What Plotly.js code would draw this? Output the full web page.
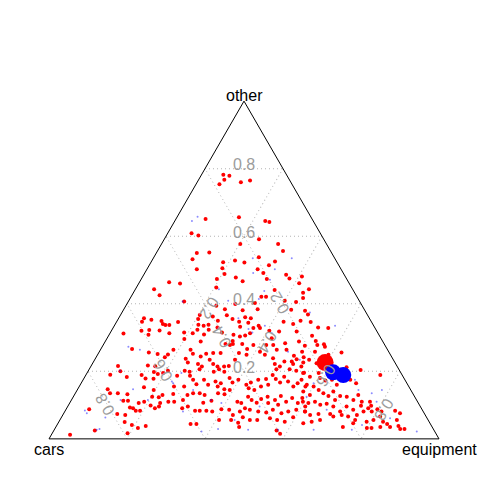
<!DOCTYPE html>
<html>
<head>
<meta charset="utf-8">
<script src="https://cdn.plot.ly/plotly-3.0.1.min.js"></script>
<style>
  html, body { margin: 0; padding: 0; background: #fff; }
  #chart { width: 489px; height: 489px; }
</style>
</head>
<body>
<div id="chart"></div>
<script>
// composition parts, in ternary order: other (top), cars (left), equipment (right)
var partNames = ['other', 'cars', 'equipment'];
var gridTicks = [0.2, 0.4, 0.6, 0.8];
var gridLabels = ['0.2', '0.4', '0.6', '0.8'];

// observations (red); cars = 1 - other - equipment
var otherRed = [
    0.782,0.779,0.767,0.754,0.760,0.765,0.651,0.656,0.645,0.642,
    0.609,0.602,0.591,0.577,0.577,0.556,0.550,0.552,0.532,0.523,
    0.528,0.522,0.538,0.525,0.514,0.502,0.505,0.488,0.491,0.486,
    0.475,0.481,0.478,0.473,0.473,
    0.464,0.460,0.443,0.425,0.448,0.407,0.394,0.384,0.399,0.366,
    0.355,0.347,0.362,0.350,0.355,0.367,0.357,0.347,0.353,0.340,
    0.337,0.337,0.346,0.338,0.335,0.338,0.323,0.323,0.312,0.320,
    0.322,0.308,0.321,0.313,0.315,0.313,0.296,0.309,0.330,0.315,
    0.308,0.349,
    0.502,0.467,0.461,0.443,0.433,0.441,0.417,0.405,0.409,0.421,
    0.421,0.402,0.384,0.381,0.382,0.379,0.368,0.360,0.357,0.347,
    0.350,0.340,0.346,0.344,0.332,0.335,0.328,0.320,0.318,0.330,
    0.328,0.305,0.306,0.298,
    0.318,0.290,0.280,0.258,0.283,0.264,0.236,0.229,0.278,0.264,
    0.258,0.278,0.278,0.290,0.303,0.313,0.328,0.234,0.288,
    0.266,0.256,0.251,0.250,0.242,0.264,0.216,0.217,0.200,0.190,
    0.183,0.215,0.198,0.192,0.202,0.195,0.189,0.178,0.179,0.187,
    0.153,0.145,0.147,0.135,0.135,0.132,0.155,0.133,0.130,0.123,
    0.125,0.110,0.106,0.106,0.110,0.110,0.099,0.091,0.096,0.088,
    0.113,0.113,0.093,0.091,0.083,0.083,0.074,0.071,0.050,0.041,
    0.032,0.038,0.017,0.025,0.012,
    0.281,0.281,0.281,0.278,0.288,0.264,0.237,0.252,0.244,0.252,
    0.254,0.234,0.254,0.254,0.266,0.249,0.249,0.239,0.222,0.229,
    0.222,0.246,0.242,0.226,0.222,0.214,0.222,0.214,0.214,0.199,
    0.216,0.202,0.199,0.206,0.199,0.206,0.206,0.214,0.202,0.206,
    0.214,0.195,0.187,0.175,0.155,0.162,0.175,0.160,0.170,0.165,
    0.155,0.147,0.180,0.167,0.175,0.160,0.167,0.150,0.145,0.175,
    0.155,0.177,0.160,0.189,0.177,0.167,0.184,0.170,0.155,0.165,
    0.175,0.155,0.115,0.130,0.135,0.135,0.130,0.113,0.107,0.135,
    0.132,0.145,0.110,0.106,0.125,0.115,0.107,0.118,0.125,0.106,
    0.115,0.101,0.127,0.110,0.121,0.106,0.121,0.096,0.091,0.096,
    0.083,0.083,0.083,0.081,0.088,0.086,0.071,0.081,0.091,0.086,
    0.081,0.078,0.086,0.076,0.081,0.086,0.081,0.056,0.056,0.048,
    0.056,0.064,0.056,0.061,0.056,0.051,0.064,0.044,0.044,0.035,
    0.025,0.015,
    0.276,0.278,0.273,0.249,0.258,0.234,0.226,0.224,0.204,0.212,
    0.189,0.196,0.184,0.195,0.180,0.173,0.175,0.160,0.175,0.165,
    0.160,0.155,0.145,0.140,0.130,0.135,0.127,0.140,0.115,0.127,
    0.125,0.115,0.130,0.110,0.110,0.098,0.110,0.106,0.110,0.101,
    0.104,0.096,0.081,0.096,0.086,0.071,0.081,0.091,0.081,0.081,
    0.071,0.074,0.074,0.066,0.071,0.066,0.056,0.051,0.056,0.066,
    0.051,0.088,0.081,0.083,0.076,0.056,0.044,0.035,0.038,0.029,
    0.029,0.032,0.032,0.035,0.035,0.046,0.051,0.046,0.056,0.098,
    0.256
];
var equipRed = [
    0.056,0.073,0.066,0.060,0.112,0.133,0.076,0.159,0.232,0.244,
    0.061,0.082,0.243,0.299,0.202,0.322,0.104,0.135,0.102,0.185,
    0.213,0.240,0.269,0.317,0.307,0.128,0.192,0.206,0.304,0.365,
    0.379,0.408,0.240,0.194,0.322,
    0.076,0.106,0.048,0.071,0.205,0.143,0.232,0.259,0.278,0.273,
    0.293,0.314,0.239,0.258,0.205,0.203,0.065,0.065,0.086,0.122,
    0.130,0.140,0.158,0.214,0.229,0.240,0.248,0.219,0.035,0.077,
    0.096,0.101,0.123,0.152,0.189,0.212,0.199,0.243,0.267,0.286,
    0.319,0.114,
    0.284,0.263,0.411,0.445,0.435,0.358,0.443,0.431,0.400,0.334,
    0.346,0.327,0.343,0.306,0.430,0.467,0.480,0.323,0.339,0.428,
    0.470,0.456,0.498,0.339,0.324,0.370,0.377,0.405,0.431,0.525,
    0.552,0.522,0.350,0.422,
    0.476,0.539,0.565,0.520,0.464,0.477,0.517,0.508,0.436,0.452,
    0.412,0.385,0.325,0.326,0.338,0.359,0.360,0.360,0.245,
    0.080,0.128,0.153,0.180,0.176,0.187,0.069,0.145,0.083,0.062,
    0.108,0.165,0.170,0.183,0.204,0.195,0.143,0.179,0.158,0.235,
    0.167,0.196,0.077,0.089,0.109,0.135,0.243,0.252,0.226,0.220,
    0.202,0.189,0.177,0.232,0.251,0.266,0.211,0.226,0.234,0.059,
    0.134,0.146,0.161,0.170,0.181,0.192,0.138,0.160,0.169,0.192,
    0.212,0.229,0.193,0.105,0.048,
    0.312,0.331,0.355,0.418,0.497,0.231,0.232,0.243,0.267,0.277,
    0.294,0.295,0.313,0.360,0.375,0.382,0.429,0.455,0.468,0.489,
    0.515,0.505,0.532,0.243,0.271,0.285,0.310,0.325,0.342,0.350,
    0.353,0.247,0.261,0.283,0.323,0.333,0.480,0.485,0.533,0.514,
    0.540,0.554,0.268,0.282,0.269,0.297,0.310,0.328,0.342,0.358,
    0.355,0.376,0.373,0.387,0.398,0.426,0.434,0.437,0.454,0.449,
    0.466,0.468,0.482,0.479,0.493,0.509,0.511,0.528,0.549,0.555,
    0.560,0.580,0.286,0.290,0.302,0.319,0.334,0.360,0.342,0.366,
    0.384,0.391,0.428,0.440,0.448,0.462,0.479,0.485,0.498,0.509,
    0.522,0.537,0.531,0.553,0.563,0.585,0.589,0.609,0.296,0.308,
    0.333,0.345,0.362,0.378,0.398,0.419,0.436,0.449,0.457,0.472,
    0.496,0.518,0.531,0.558,0.573,0.591,0.616,0.408,0.439,0.461,
    0.487,0.465,0.506,0.536,0.557,0.579,0.594,0.341,0.356,0.470,
    0.571,0.585,
    0.518,0.549,0.571,0.592,0.553,0.550,0.539,0.574,0.697,0.657,
    0.755,0.556,0.577,0.594,0.605,0.622,0.638,0.658,0.685,0.705,
    0.581,0.601,0.619,0.582,0.604,0.636,0.653,0.659,0.676,0.683,
    0.701,0.723,0.728,0.747,0.768,0.777,0.596,0.612,0.627,0.645,
    0.660,0.681,0.706,0.715,0.737,0.754,0.766,0.773,0.787,0.616,
    0.634,0.654,0.684,0.696,0.715,0.734,0.757,0.789,0.804,0.816,
    0.831,0.798,0.812,0.846,0.862,0.864,0.845,0.857,0.877,0.886,
    0.897,0.799,0.811,0.832,0.736,0.757,0.648,0.629,0.667,0.751,
    0.622
];

// second sample (tiny blue dots)
var otherBlue = [
    0.658,0.645,0.535,0.535,0.502,0.491,0.443,0.409,0.407,0.357,
    0.471,0.414,0.438,0.374,0.335,0.335,0.325,0.313,0.315,0.273,
    0.029,0.165,0.147,0.063,0.115,0.084,0.115,0.195,0.145,0.115,
    0.106,0.096,0.056,0.022,0.029,0.258,0.234,0.125,0.027,0.027,
    0.081,0.165,0.145,0.110,0.145,0.061,0.022,0.027,0.027,0.041,
    0.086,0.175,0.135,0.202,0.027,0.076,0.264,0.170
];
var equipBlue = [
    0.052,0.044,0.355,0.255,0.328,0.278,0.214,0.255,0.139,0.307,
    0.331,0.331,0.333,0.482,0.566,0.386,0.349,0.415,0.364,0.067,
    0.115,0.236,0.142,0.113,0.126,0.050,0.196,0.242,0.297,0.358,
    0.389,0.492,0.448,0.380,0.419,0.484,0.526,0.598,0.497,0.574,
    0.303,0.596,0.721,0.785,0.781,0.844,0.932,0.763,0.665,0.782,
    0.669,0.697,0.760,0.081,0.109,0.059,0.101,0.230
];

// centres (big markers)
var otherRedMean = [0.226];
var equipRedMean = [0.595];
var otherBlueMean = [0.197, 0.189];
var equipBlueMean = [0.630, 0.660];

function rest(o, e) {
    return o.map(function (v, i) { return +(1 - v - e[i]).toFixed(3); });
}

function points(o, e, size, color) {
    return {
        type: 'scatterternary',
        mode: 'markers',
        a: o,
        b: rest(o, e),
        c: e,
        hoverinfo: 'skip',
        marker: { size: size, color: color, line: { width: 0 } }
    };
}

var data = [
    points(otherRed, equipRed, 4, '#ff0000'),
    points(otherBlue, equipBlue, 2, 'rgba(0,0,255,0.45)'),
    points(otherRedMean, equipRedMean, 17, '#ff0000'),
    points(otherBlueMean, equipBlueMean, 16, '#0000ff')
];

var axisStyle = {
    title: { text: '' },
    showticklabels: false,
    ticks: '',
    tickmode: 'linear',
    tick0: 0,
    dtick: 0.2,
    showline: true,
    linecolor: '#000000',
    linewidth: 1,
    showgrid: true,
    gridcolor: '#b4b4b4',
    gridwidth: 1,
    griddash: '1px,3px'
};

// ternary position -> paper coords (triangle fills the plot area)
function toPaper(a, c) {
    return { x: c + a / 2, y: a };
}

var labelFont = { family: 'Liberation Sans, Arial, sans-serif', size: 16, color: '#000000' };
var gridFont = { family: 'Liberation Sans, Arial, sans-serif', size: 16, color: '#9c9c9c' };
var notes = [];

notes.push({ xref: 'paper', yref: 'paper', x: 0.5, y: 1, text: partNames[0], showarrow: false,
    xanchor: 'center', yanchor: 'bottom', yshift: -5, font: labelFont });
notes.push({ xref: 'paper', yref: 'paper', x: 0, y: 0, text: partNames[1], showarrow: false,
    xanchor: 'center', yanchor: 'top', font: labelFont });
notes.push({ xref: 'paper', yref: 'paper', x: 1, y: 0, text: partNames[2], showarrow: false,
    xanchor: 'center', yanchor: 'top', font: labelFont });

gridTicks.forEach(function (v, i) {
    var p;
    p = toPaper(v, (1 - v) / 2);
    notes.push({ xref: 'paper', yref: 'paper', x: 0.5, y: p.y, text: gridLabels[i], showarrow: false,
        xanchor: 'center', yanchor: 'middle', yshift: 4, font: gridFont });
    p = toPaper((1 - v) / 2, (1 - v) / 2);
    notes.push({ xref: 'paper', yref: 'paper', x: p.x, y: p.y, text: gridLabels[i], showarrow: false,
        xanchor: 'center', yanchor: 'middle', textangle: -120, xshift: -3, yshift: 1, font: gridFont });
    p = toPaper((1 - v) / 2, v);
    notes.push({ xref: 'paper', yref: 'paper', x: p.x, y: p.y, text: gridLabels[i], showarrow: false,
        xanchor: 'center', yanchor: 'middle', textangle: 120, xshift: 4, yshift: -4, font: gridFont });
});

var layout = {
    width: 489,
    height: 489,
    margin: { l: 49, r: 50, t: 101, b: 50, pad: 0 },
    paper_bgcolor: '#ffffff',
    showlegend: false,
    hovermode: false,
    font: { family: 'Liberation Sans, Arial, sans-serif', size: 16, color: '#000000' },
    ternary: {
        sum: 1,
        bgcolor: '#ffffff',
        domain: { x: [0, 1], y: [0, 1] },
        aaxis: axisStyle,
        baxis: axisStyle,
        caxis: axisStyle
    },
    annotations: notes
};

Plotly.newPlot('chart', data, layout, { staticPlot: true, displayModeBar: false });
</script>
</body>
</html>
